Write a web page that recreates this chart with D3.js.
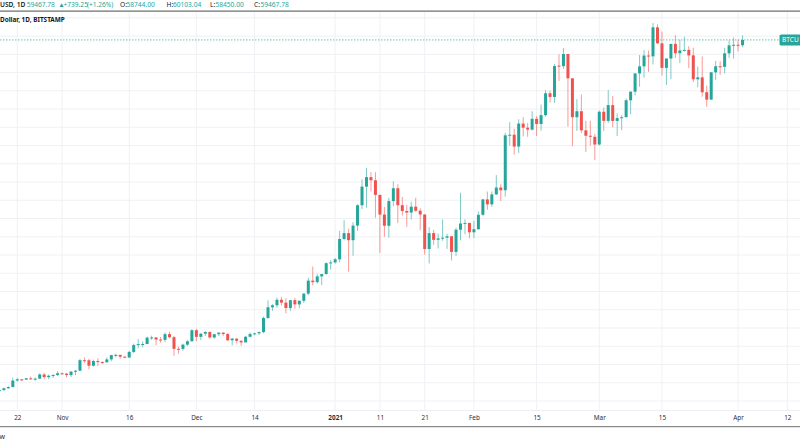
<!DOCTYPE html>
<html>
<head>
<meta charset="utf-8">
<script src="https://cdn.jsdelivr.net/npm/d3@7"></script>
<style>
  html, body { margin: 0; padding: 0; background: #ffffff; }
  svg { display: block; font-family: "Noto Sans", "Open Sans", sans-serif; }
</style>
</head>
<body>
<svg id="chart" width="800" height="445"></svg>
<script>
// ---------------- data ----------------
const firstDay = "2020-10-18"; // first (partly visible) daily candle
const opens = [
  11360,11490,11740,11910,12800,12970,12930,13110,13030,13060,13640,13270,13460,13560,
  13800,13750,13550,14030,14150,15590,15580,14830,15480,15330,15300,15700,16280,16320,16070,
  15960,16720,17660,17800,17810,18680,18710,18420,18370,19160,18740,17150,17140,17720,18180,
  19700,18790,19220,19450,18700,19150,19360,19170,18320,18550,18250,18030,18800,19170,19270,
  19440,21380,22840,23110,23870,23480,22740,23820,23240,23730,24710,26490,26280,27080,27390,28880,
  28990,29410,32200,33000,32030,34030,36820,39370,40670,40240,38240,35540,34010,37390,39150,
  36830,36030,35820,36630,36070,35550,30820,33000,32080,32280,32370,32570,30430,33470,34320,34400,
  33110,33540,35510,37620,36940,38310,39250,38870,46400,46480,44860,48010,47450,47180,48660,
  47950,49160,52160,51660,55950,55880,57540,54210,48880,49700,47080,46340,46200,
  45140,49630,48380,50540,48370,48760,48880,51200,52380,54880,55850,57330,57220,61190,59000,
  55640,56920,58920,57650,58030,58100,57350,54080,54340,52300,51290,55030,55860,55780,57630,58730,
  58800,58744
];
const highs = [
  11490,11820,12020,13210,13180,13020,13160,13340,13240,13780,13850,13630,13670,14090,
  13900,13820,14070,14250,15770,15970,15770,15660,15840,15460,15950,16340,16480,16330,16140,
  16880,17860,18480,18150,18820,18950,18760,18760,19400,19480,18920,17450,17860,18340,19840,
  19900,19300,19600,19540,19180,19420,19420,19290,18640,18560,18280,18940,19400,19330,19550,
  21560,23790,23280,24170,24280,24080,23850,24130,23800,24780,26870,28420,27400,27400,28990,29300,
  29600,33300,34780,33600,34500,36940,40370,41950,41350,41350,38260,36600,37850,40100,39700,
  37950,36850,37300,37850,36400,35600,33830,33450,32950,34880,32930,32570,33750,38530,34900,34400,
  34700,35980,37660,38700,38700,40950,39700,46750,48200,47300,48600,48900,48100,49700,49000,
  50600,52600,52500,56200,57500,58350,57540,54210,51350,52000,48400,48400,46600,
  49800,50200,52600,51800,49400,49200,51450,52400,54900,57400,58100,58000,61790,61600,60600,
  56950,58950,60100,59500,59900,58600,58400,55800,57200,53200,55100,56600,56550,58400,59400,59800,
  59500,60103.04
];
const lows = [
  11340,11420,11680,11890,12690,12720,12890,12910,12780,13050,12960,12990,13140,13420,
  13620,13220,13290,13530,14090,15220,14340,14710,14800,15080,15290,15450,15980,15800,15870,
  15880,16570,17220,17350,17750,18360,17650,18000,18050,18580,16200,16480,16870,17550,18180,
  18190,18330,18900,18580,18530,18880,18920,18200,17630,17920,17580,18020,18720,19000,19050,
  19290,21240,22360,22790,23080,22000,22350,22650,22720,23430,24500,25850,26100,25880,27340,28000,
  28800,29000,32000,27730,29900,33300,36300,36500,38720,35110,30300,32500,32380,36700,34400,
  35400,33850,34850,35900,33400,30070,28850,31400,30900,31950,30850,29250,29900,31990,32830,32300,
  32300,33420,35380,36200,36600,38220,37400,37990,45000,43750,44000,46250,46200,47050,46300,
  47050,48950,50900,50850,53850,55500,47600,44900,47000,46700,44100,45000,43000,
  45000,47000,48100,47500,46300,47100,48880,49300,51900,53050,54300,55100,56100,58950,54600,
  53300,54100,57000,56300,57900,55600,53700,53000,51700,50300,51290,54000,54700,54900,57000,56900,
  57900,58450
];
const closes = [
  11490,11740,11910,12800,12970,12930,13110,13030,13060,13640,13270,13460,13560,13800,
  13750,13550,14030,14150,15590,15580,14830,15480,15330,15300,15700,16280,16320,16070,15960,
  16720,17660,17800,17810,18680,18710,18420,18370,19160,18740,17150,17140,17720,18180,19700,
  18790,19220,19450,18700,19150,19360,19170,18320,18550,18250,18030,18800,19170,19270,19440,
  21380,22840,23110,23870,23480,22740,23820,23240,23730,24710,26490,26280,27080,27390,28880,28990,
  29410,32200,33000,32030,34030,36820,39370,40670,40240,38240,35540,34010,37390,39150,36830,
  36030,35820,36630,36070,35550,30820,33000,32080,32280,32370,32570,30430,33470,34320,34400,33110,
  33540,35510,37620,36940,38310,39250,38870,46400,46480,44860,48010,47450,47180,48660,47950,
  49160,52160,51660,55890,55880,57540,54210,48880,49700,47080,46340,46200,45140,
  49630,48380,50540,48370,48760,48880,51200,52380,54880,55850,57330,57220,61190,59000,55640,
  56920,58920,57650,58030,58100,57350,54080,54340,52300,51290,55030,55860,55780,57630,58730,58800,
  58744,59467.78
];
const lastPrice = 59467.78;
const tickDates  = ["2020-10-22","2020-11-01","2020-11-16","2020-12-01","2020-12-14","2021-01-01","2021-01-11","2021-01-21","2021-02-01","2021-02-15","2021-03-01","2021-03-15","2021-04-01","2021-04-12"];
const tickLabels = ["22","Nov","16","Dec","14","2021","11","21","Feb","15","Mar","15","Apr","12"];
const gridPrices = [10000,12500,15000,17500,20000,22500,25000,27500,30000,32500,35000,37500,40000,42500,45000,47500,50000,52500,55000,57500,60000,62500];
const headerParts = [
  {t:"USD, 1D", c:"dark", x:0},
  {t:"59467.78", c:"up", x:26.7},
  {t:"\u25B2", c:"up", x:58.3},
  {t:"+739.25", c:"up", x:63.5},
  {t:"(+1.26%)", c:"up", x:87},
  {t:"O:", c:"dark", x:120}, {t:"58744.00", c:"up", x:126.5},
  {t:"H:", c:"dark", x:166.5}, {t:"60103.04", c:"up", x:173},
  {t:"L:", c:"dark", x:210}, {t:"58450.00", c:"up", x:215.5},
  {t:"C:", c:"dark", x:254}, {t:"59467.78", c:"up", x:260.5}
];

// ---------------- drawing ----------------
const UP = "#26a69a", DOWN = "#ef5350", GRID = "#eff1f4", TEXT = "#131722";
const svg = d3.select("#chart");
const parse = d3.utcParse("%Y-%m-%d");
const start = parse(firstDay);
const candles = opens.map((o, i) => ({
  date: d3.utcDay.offset(start, i), o, h: highs[i], l: lows[i], c: closes[i]
}));

const plotTop = 12, plotBottom = 410;
const x = d3.scaleUtc().domain([parse("2020-10-22"), parse("2021-04-12")]).range([17.3, 787.3]);
const y = d3.scaleLinear().domain([10000, 60000]).range([401.0, 36.05]);

// bottom shadow
const defs = svg.append("defs");
const rg = defs.append("radialGradient").attr("id", "shade").attr("cx", "50%").attr("cy", "100%").attr("r", "50%");
rg.append("stop").attr("offset", "0%").attr("stop-color", "#e9e9e9");
rg.append("stop").attr("offset", "100%").attr("stop-color", "#ffffff").attr("stop-opacity", 0);
defs.append("clipPath").attr("id", "bottomClip").append("rect").attr("x", 0).attr("y", 428).attr("width", 800).attr("height", 17);
defs.append("clipPath").attr("id", "labelClip").append("rect").attr("x", 0).attr("y", 0).attr("width", 800).attr("height", 445);
svg.append("ellipse").attr("cx", 395).attr("cy", 452).attr("rx", 190).attr("ry", 24)
  .attr("fill", "url(#shade)").attr("clip-path", "url(#bottomClip)");

// grid
const grid = svg.append("g");
grid.selectAll(".hg").data(gridPrices).join("line")
  .attr("x1", 0).attr("x2", 800).attr("y1", d => y(d)).attr("y2", d => y(d))
  .attr("stroke", GRID).attr("stroke-width", 1);
grid.selectAll(".vg").data(tickDates).join("line")
  .attr("x1", d => x(parse(d))).attr("x2", d => x(parse(d)))
  .attr("y1", plotTop).attr("y2", plotBottom)
  .attr("stroke", GRID).attr("stroke-width", 1);

// price line
svg.append("line").attr("x1", 0).attr("x2", 800).attr("y1", y(lastPrice)).attr("y2", y(lastPrice))
  .attr("stroke", UP).attr("stroke-opacity", 0.7).attr("stroke-width", 1).attr("stroke-dasharray", "1.5,1.5");

// candles
const bw = 3;
const g = svg.append("g");
g.selectAll(".wick").data(candles).join("line")
  .attr("x1", d => x(d.date)).attr("x2", d => x(d.date))
  .attr("y1", d => y(d.h)).attr("y2", d => y(d.l))
  .attr("stroke", d => d.c >= d.o ? UP : DOWN)
  .attr("stroke-opacity", 0.58).attr("stroke-width", 1);
g.selectAll(".body").data(candles).join("rect")
  .attr("x", d => x(d.date) - bw / 2).attr("width", bw)
  .attr("y", d => y(Math.max(d.o, d.c)))
  .attr("height", d => Math.max(1, Math.abs(y(d.o) - y(d.c))))
  .attr("fill", d => d.c >= d.o ? UP : DOWN);

// top bar
svg.append("rect").attr("x", 0).attr("y", 0).attr("width", 800).attr("height", 10.5).attr("fill", "#fff");
svg.append("line").attr("x1", 0).attr("x2", 800).attr("y1", 11.2).attr("y2", 11.2).attr("stroke", "#6f6f6f").attr("stroke-width", 1.3);
const hdr = svg.append("g").attr("font-size", 6.6);
hdr.selectAll("text").data(headerParts).join("text")
  .attr("x", d => d.x).attr("y", 6.8)
  .attr("fill", d => d.c === "up" ? UP : TEXT)
  .attr("font-weight", d => d.t === "USD, 1D" ? 600 : 400)
  .text(d => d.t);
svg.append("text").attr("x", 0).attr("y", 22.3).attr("font-size", 6.4).attr("font-weight", 700)
  .attr("fill", TEXT).text("Dollar, 1D, BITSTAMP");

// price label (cut by the right edge, as in the screenshot)
svg.append("rect").attr("x", 779.5).attr("y", y(lastPrice) - 5.5).attr("width", 26).attr("height", 11).attr("rx", 1.5).attr("fill", UP);
svg.append("text").attr("x", 782).attr("y", y(lastPrice) + 2.3).attr("font-size", 6.6).attr("fill", "#fff")
  .attr("clip-path", "url(#labelClip)").text("BTCU");

// time axis
svg.append("rect").attr("x", 0).attr("y", plotBottom).attr("width", 800).attr("height", 16).attr("fill", "#fff");
svg.append("line").attr("x1", 0).attr("x2", 800).attr("y1", plotBottom + 0.5).attr("y2", plotBottom + 0.5).attr("stroke", "#eceef1");
const axis = d3.axisBottom(x).tickValues(tickDates.map(parse)).tickSize(0)
  .tickFormat((d, i) => tickLabels[i]);
const ax = svg.append("g").attr("transform", `translate(0,${plotBottom})`).call(axis);
ax.select(".domain").remove();
ax.selectAll("text").attr("font-size", 6.4).attr("fill", "#2a2e39").attr("dy", 0).attr("y", 9.6)
  .attr("font-family", "Noto Sans, sans-serif")
  .attr("font-weight", (d, i) => tickLabels[i] === "2021" ? 700 : 400);
svg.append("line").attr("x1", 0).attr("x2", 800).attr("y1", 426.6).attr("y2", 426.6).attr("stroke", "#8a8a8a").attr("stroke-width", 1.4);
svg.append("text").attr("x", -0.6).attr("y", 439.2).attr("font-size", 7).attr("fill", "#2a2e39").text("w");
</script>
</body>
</html>
